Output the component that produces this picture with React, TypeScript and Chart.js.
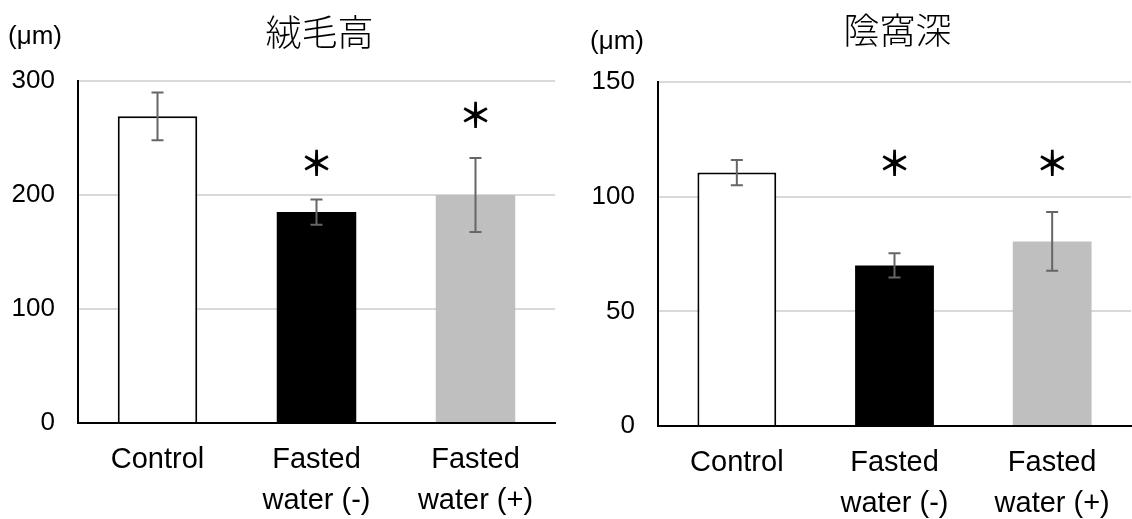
import { useEffect, useRef } from "react";
import { Chart, registerables } from "chart.js";
Chart.register(...registerables);

const categories = [["Control"], ["Fasted", "water (-)"], ["Fasted", "water (+)"]];
const unitLabel = "(μm)";
const starLabel = "＊";

const villusTitle = "絨毛高";
const villusMeans = [269, 185, 200];
const villusErrors = [21, 11, 32.5];
const villusStars = [null, 228, 270];
const villusTicks = [0, 100, 200, 300];

const cryptTitle = "陰窩深";
const cryptMeans = [110.5, 70, 80.5];
const cryptErrors = [5.5, 5.3, 12.8];
const cryptStars = [null, 114.7, 114.7];
const cryptTicks = [0, 50, 100, 150];

const barFills = ["#ffffff", "#000000", "#bfbfbf"];
const barBorders = ["#000000", "#000000", "#bfbfbf"];
const barBorderWidths = [2, 0, 0];

type PanelCfg = {
  title: string;
  means: number[];
  errors: number[];
  stars: (number | null)[];
  ticks: number[];
  yWidth: number;
  padRight: number;
  padTop: number;
  xHeight: number;
  unitX: number;
  unitY: number;
  titleY: number;
};

const panels: PanelCfg[] = [
  {
    title: villusTitle, means: villusMeans, errors: villusErrors, stars: villusStars, ticks: villusTicks,
    yWidth: 78, padRight: 11, padTop: 81, xHeight: 96, unitX: 8, unitY: 37, titleY: 32,
  },
  {
    title: cryptTitle, means: cryptMeans, errors: cryptErrors, stars: cryptStars, ticks: cryptTicks,
    yWidth: 92, padRight: 1, padTop: 82, xHeight: 93, unitX: 24, unitY: 42, titleY: 30,
  },
];

function makePlugin(cfg: PanelCfg) {
  return {
    id: "annot",
    afterDatasetsDraw(chart: any) {
      const ctx = chart.ctx;
      const y = chart.scales.y;
      const meta = chart.getDatasetMeta(0);
      ctx.save();
      meta.data.forEach((bar: any, i: number) => {
        const x = bar.x;
        const top = y.getPixelForValue(cfg.means[i] + cfg.errors[i]);
        const bot = y.getPixelForValue(cfg.means[i] - cfg.errors[i]);
        ctx.strokeStyle = "#666666";
        ctx.lineWidth = 2;
        ctx.beginPath();
        ctx.moveTo(x, top);
        ctx.lineTo(x, bot);
        ctx.moveTo(x - 6, top);
        ctx.lineTo(x + 6, top);
        ctx.moveTo(x - 6, bot);
        ctx.lineTo(x + 6, bot);
        ctx.stroke();
        const s = cfg.stars[i];
        if (s != null) {
          ctx.fillStyle = "#000";
          ctx.font = 'bold 34px "Noto Sans CJK JP"';
          ctx.textAlign = "center";
          ctx.textBaseline = "middle";
          ctx.fillText(starLabel, x, y.getPixelForValue(s));
        }
      });
      ctx.restore();
    },
    afterDraw(chart: any) {
      const ctx = chart.ctx;
      const a = chart.chartArea;
      ctx.save();
      ctx.fillStyle = "#000";
      ctx.textBaseline = "middle";
      ctx.textAlign = "center";
      ctx.font = '300 36px "Noto Sans CJK JP"';
      ctx.fillText(cfg.title, (a.left + a.right) / 2 + 3, cfg.titleY);
      ctx.textAlign = "left";
      ctx.font = '26px "Liberation Sans", Arial, sans-serif';
      ctx.fillText(unitLabel, cfg.unitX, cfg.unitY);
      ctx.restore();
    },
  };
}

function Panel({ cfg, left }: { cfg: PanelCfg; left: number }) {
  const ref = useRef<HTMLCanvasElement | null>(null);
  useEffect(() => {
    if (!ref.current) return;
    const chart = new Chart(ref.current, {
      type: "bar",
      data: {
        labels: categories,
        datasets: [
          {
            data: cfg.means,
            backgroundColor: barFills,
            borderColor: barBorders,
            borderWidth: barBorderWidths,
            categoryPercentage: 1,
            barPercentage: 0.5,
          },
        ],
      },
      options: {
        responsive: false,
        animation: false,
        devicePixelRatio: 1,
        layout: { padding: { left: 0, right: cfg.padRight, top: cfg.padTop, bottom: 0 } },
        plugins: { legend: { display: false }, tooltip: { enabled: false }, title: { display: false } },
        scales: {
          x: {
            grid: { display: false, drawTicks: false },
            border: { display: true, color: "#000", width: 2, z: 1 },
            ticks: {
              color: "#000",
              padding: 16,
              maxRotation: 0,
              autoSkip: false,
              font: { family: '"Liberation Sans", Arial, sans-serif', size: 29, lineHeight: 1.43 },
            },
            afterFit: (s: any) => { s.height = cfg.xHeight; },
          },
          y: {
            min: cfg.ticks[0],
            max: cfg.ticks[cfg.ticks.length - 1],
            afterBuildTicks: (s: any) => { s.ticks = cfg.ticks.map((v) => ({ value: v })); },
            grid: {
              drawTicks: false,
              lineWidth: 2,
              color: (c: any) => (c.tick && c.tick.value === 0 ? "rgba(0,0,0,0)" : "#d9d9d9"),
            },
            border: { display: true, color: "#000", width: 2, z: 1 },
            ticks: {
              color: "#000",
              padding: 23,
              font: { family: '"Liberation Sans", Arial, sans-serif', size: 26 },
            },
            afterFit: (s: any) => { s.width = cfg.yWidth; },
          },
        },
      },
      plugins: [makePlugin(cfg)],
    });
    return () => chart.destroy();
  }, [cfg]);
  return (
    <canvas
      ref={ref}
      width={566}
      height={519}
      style={{ position: "absolute", left, top: 0, width: 566, height: 519 }}
    />
  );
}

export default function App() {
  return (
    <div style={{ position: "absolute", left: 0, top: 0, width: 1132, height: 519, background: "#fff" }}>
      <Panel cfg={panels[0]} left={0} />
      <Panel cfg={panels[1]} left={566} />
    </div>
  );
}
